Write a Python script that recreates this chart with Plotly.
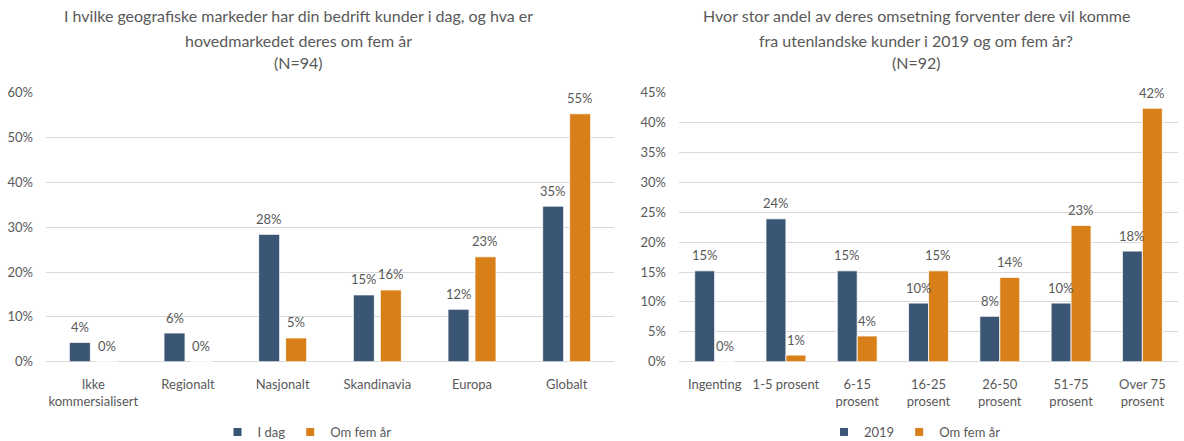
import plotly.graph_objects as go

# Left panel: geographic markets today vs. in five years (N=94)
markets = ["Ikke<br>kommersialisert", "Regionalt", "Nasjonalt", "Skandinavia", "Europa", "Globalt"]
markets_today = [4.3, 6.4, 28.4, 14.9, 11.7, 34.7]
markets_five_years = [0.0, 0.0, 5.3, 16.0, 23.4, 55.3]

# Right panel: share of revenue from foreign customers (N=92)
shares = ["Ingenting", "1-5 prosent", "6-15<br>prosent", "16-25<br>prosent",
          "26-50<br>prosent", "51-75<br>prosent", "Over 75<br>prosent"]
share_2019 = [15.2, 23.9, 15.2, 9.8, 7.6, 9.8, 18.5]
share_five_years = [0.0, 1.1, 4.3, 15.2, 14.1, 22.8, 42.4]

left_title = ["I hvilke geografiske markeder har din bedrift kunder i dag, og hva er",
              "hovedmarkedet deres om fem år", "(N=94)"]
right_title = ["Hvor stor andel av deres omsetning forventer dere vil komme",
               "fra utenlandske kunder i 2019 og om fem år?", "(N=92)"]

NAVY = "#3b5674"
ORANGE = "#d87f1a"
TEXT = "#595959"
GRID = "#d9d9d9"
FONT = "Lato"

W, H = 1184, 441

# Plot-area extents in pixels
L_X0, L_X1 = 46, 614
R_X0, R_X1 = 679, 1178
Y_TOP, Y_BOT = 92.7, 361.7


def px_x(x):
    return x / W


def px_y(y):
    return 1 - y / H


def labels(vals):
    return [f"{round(v)}%" for v in vals]


fig = go.Figure()

# Bar geometry in category units: left panel has a small gap between the pair,
# right panel bars sit flush against each other.
L_W, L_GAP = 0.222, 0.063
R_W = 0.28

panels = [
    ("x", "y", markets, [(markets_today, NAVY, -(L_W + L_GAP / 2)),
                         (markets_five_years, ORANGE, L_GAP / 2)], L_W,
     (L_X1 - L_X0) / len(markets)),
    ("x2", "y2", shares, [(share_2019, NAVY, -R_W),
                          (share_five_years, ORANGE, 0.0)], R_W,
     (R_X1 - R_X0) / len(shares)),
]

for ax, ay, cats, series, bw, cat_px in panels:
    for vals, color, off in series:
        fig.add_trace(go.Bar(x=cats, y=vals, width=bw, offset=off, marker_color=color,
                             marker_line=dict(color="white", width=0.8),
                             showlegend=False, hoverinfo="skip", xaxis=ax, yaxis=ay))
        # value labels centred above each bar
        shift = (off + bw / 2) * cat_px
        for c, v, t in zip(cats, vals, labels(vals)):
            fig.add_annotation(x=c, y=v, text=t, xref=ax, yref=ay, showarrow=False,
                               xanchor="center", yanchor="middle", xshift=shift, yshift=15.5,
                               font=dict(family=FONT, size=13, color=TEXT))

# Legend entries (small square swatches)
for name, color, ax, ay, lg in [("I dag", NAVY, "x", "y", "legend"),
                                 ("Om fem år", ORANGE, "x", "y", "legend"),
                                 ("2019", NAVY, "x2", "y2", "legend2"),
                                 ("Om fem år", ORANGE, "x2", "y2", "legend2")]:
    fig.add_trace(go.Scatter(x=[None], y=[None], mode="markers", name=name,
                             marker=dict(symbol="square", size=8, color=color),
                             xaxis=ax, yaxis=ay, legend=lg, hoverinfo="skip"))

ydom = [px_y(Y_BOT), px_y(Y_TOP)]
axis_font = dict(family=FONT, size=13, color=TEXT)

xaxis_common = dict(type="category", showgrid=False, zeroline=False, showline=False,
                    tickfont=axis_font, ticks="", ticklabelstandoff=13, fixedrange=True,
                    automargin=False)
yaxis_common = dict(showgrid=True, gridcolor=GRID, gridwidth=1.3, zeroline=True,
                    zerolinecolor=GRID, zerolinewidth=1.3, showline=False,
                    ticksuffix="%", tickfont=axis_font, ticklabelstandoff=12,
                    fixedrange=True, automargin=False)

legend_common = dict(orientation="h", xanchor="center", y=px_y(432), yanchor="middle",
                     font=dict(family=FONT, size=13, color=TEXT), itemwidth=30,
                     bgcolor="rgba(0,0,0,0)")

fig.update_layout(
    width=W, height=H,
    margin=dict(l=0, r=0, t=0, b=0, autoexpand=False),
    paper_bgcolor="white", plot_bgcolor="white",
    barmode="overlay",
    font=dict(family=FONT, color=TEXT),
    xaxis=dict(domain=[px_x(L_X0), px_x(L_X1)], anchor="y", **xaxis_common),
    yaxis=dict(domain=ydom, anchor="x", range=[0, 60], dtick=10, **yaxis_common),
    xaxis2=dict(domain=[px_x(R_X0), px_x(R_X1)], anchor="y2", **xaxis_common),
    yaxis2=dict(domain=ydom, anchor="x2", range=[0, 45], dtick=5, **yaxis_common),
    legend=dict(x=px_x(307), **legend_common),
    legend2=dict(x=px_x(915), **legend_common),
)

line_y = [16, 40, 63]
for cx, lines in [(298, left_title), (916, right_title)]:
    for ly, line in zip(line_y, lines):
        fig.add_annotation(text=line, x=px_x(cx), y=px_y(ly), xref="paper", yref="paper",
                           xanchor="center", yanchor="middle", showarrow=False,
                           font=dict(family=FONT, size=16, color=TEXT))

fig.write_html("out.html")
